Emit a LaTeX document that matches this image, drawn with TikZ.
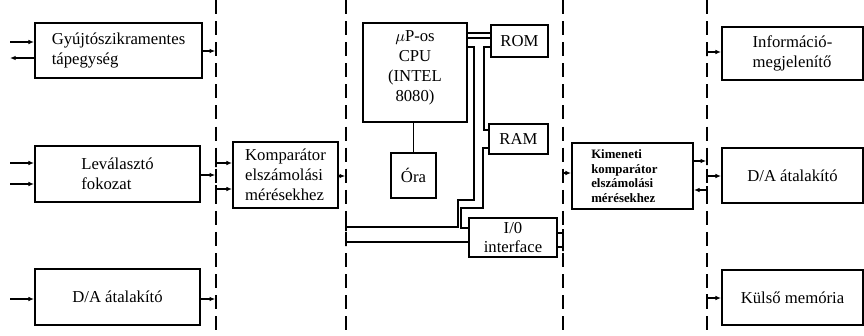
\documentclass[tikz,border=0pt]{standalone}
\usepackage{fontspec}
\setmainfont{Liberation Serif}
\usetikzlibrary{arrows.meta}

\begin{document}
\begin{tikzpicture}[x=0.02cm, y=-0.02cm, every node/.style={font=\fontsize{9.5}{11.5}\selectfont},
	blk/.style={draw, line width=1.1pt, inner sep=2pt, align=center},
	tap/.style={draw, line width=0.9pt, minimum width=0pt, minimum height=0.16cm, inner sep=0pt},
	sig/.style={line width=0.85pt, -{Latex[length=3.2pt,width=2.6pt]}},
	bus/.style={line width=0.7pt},
	sep/.style={line width=0.95pt, dash pattern=on 8pt off 4pt}]
	\useasboundingbox (0,0) rectangle (864,335);
	% interface separators
	\foreach \x in {216,346,563,707}
		\draw[sep] (\x,0) -- (\x,335);
	% blocks
	\node[blk, minimum width=3.34cm, minimum height=1.1cm, align=left] (gy) at (118.5,50.5) {Gyújtószikramentes\\tápegység};
	\node[blk, minimum width=3.3cm, minimum height=1.12cm, align=left] (lev) at (117.5,174) {Leválasztó\\fokozat};
	\node[blk, minimum width=3.3cm, minimum height=1.12cm] (dal) at (117.5,297) {D/A átalakító};
	\node[blk, minimum width=2.1cm, minimum height=1.32cm, align=left] (komp) at (285.5,175) {Komparátor\\elszámolási\\mérésekhez};
	\node[blk, minimum width=2.08cm, minimum height=1.98cm] (cpu) at (415,72.5) {$\mu$P-os\\CPU\\(INTEL\\8080)\\[-4pt]};
	\node[blk, minimum width=1.14cm, minimum height=0.64cm] (rom) at (519.5,41) {ROM};
	\node[blk, minimum width=1.18cm, minimum height=0.6cm] (ram) at (518.5,139) {RAM};
	\node[blk, minimum width=0.9cm, minimum height=0.9cm] (ora) at (413.5,175.5) {Óra};
	\node[blk, minimum width=1.76cm, minimum height=0.78cm, font=\fontsize{9.5}{10.5}\selectfont] (io) at (513,237.5) {I/0\\interface};
	\node[blk, minimum width=2.42cm, minimum height=1.32cm, align=left, text width=1.65cm, font=\fontsize{7.3}{8.3}\selectfont\bfseries] (kim) at (632.5,176) {Kimeneti\\komparátor\\elszámolási\\mérésekhez};
	\node[blk, minimum width=2.82cm, minimum height=1.06cm, align=left] (inf) at (792.5,53.5) {Információ-\\megjelenítő};
	\node[blk, minimum width=2.82cm, minimum height=1.1cm] (dar) at (792.5,175.5) {D/A átalakító};
	\node[blk, minimum width=2.82cm, minimum height=1.1cm] (kul) at (792.5,297.5) {Külső memória};
	% taps on the separators
	\foreach \n/\x/\y in {t1/216/51, t2/216/175, t3/216/163, t4/216/189, t5/216/299,
		t6/346/176, t7/346/227, t8/346/242, t9/563/233, t10/563/247, t11/563/173,
		t12/707/161, t13/707/190, t14/707/176, t15/707/52, t16/707/298}
		\node[tap] (\n) at (\x,\y) {};
	% free ends on the left
	\coordinate (i1) at (10,42);
	\coordinate (o1) at (10,58);
	\coordinate (i2) at (10,163);
	\coordinate (i3) at (10,184);
	\coordinate (i4) at (10,299);
	\draw[sig] (i1) -- (i1 -| gy.west);
	\draw[sig] (o1 -| gy.west) -- (o1);
	\draw[sig] (i2) -- (i2 -| lev.west);
	\draw[sig] (i3) -- (i3 -| lev.west);
	\draw[sig] (i4) -- (i4 -| dal.west);
	\draw[sig] (t1 -| gy.east) -- (t1);
	\draw[sig] (t2 -| lev.east) -- (t2);
	\draw[sig] (t3) -- (t3 -| komp.west);
	\draw[sig] (t4) -- (t4 -| komp.west);
	\draw[sig] (t5 -| dal.east) -- (t5);
	\draw[sig] (t6 -| komp.east) -- (t6);
	\draw[sig] (t11) -- (t11 -| kim.west);
	\draw[sig] (t12 -| kim.east) -- (t12);
	\draw[sig] (t13) -- (t13 -| kim.east);
	\draw[sig] (t14) -- (t14 -| dar.west);
	\draw[sig] (t15) -- (t15 -| inf.west);
	\draw[sig] (t16) -- (t16 -| kul.west);
	% microprocessor bus
	\draw[bus] ([yshift=0.79cm]cpu.east) -- ++(24,0);
	\draw[bus] ([yshift=0.69cm]cpu.east) -- ++(24,0);
	\draw[bus] ([yshift=0.51cm]cpu.east) -- ++(6,0) -- ++(0,153) -- ++(-16,0) |- (t7);
	\draw[bus] ([yshift=-0.12cm]rom.west) -- ++(-6,0) |- ([yshift=0.18cm]ram.west);
	\draw[bus] ([yshift=-0.18cm]ram.west) -- ++(-5,0) -- ++(0,60) -- ++(-22,0) |- ([yshift=0.19cm]io.west);
	\draw[bus] (t8) -- (t8 -| io.west);
	\draw[bus] (t9 -| io.east) -- (t9);
	\draw[bus] (t10 -| io.east) -- (t10);
	\draw[bus] (ora.north) -- (ora.north |- cpu.south);
\end{tikzpicture}
\end{document}
